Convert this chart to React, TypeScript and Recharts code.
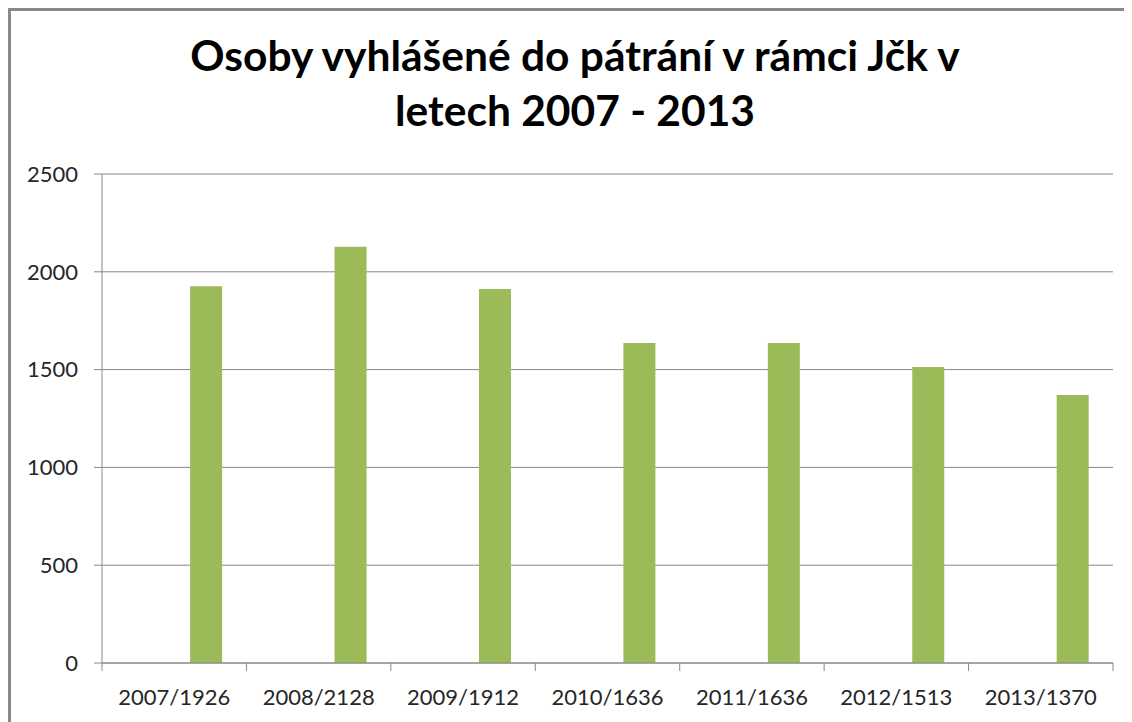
import { BarChart, Bar, XAxis, YAxis, CartesianGrid } from 'recharts';

const years = ['2007', '2008', '2009', '2010', '2011', '2012', '2013'];
const persons = [1926, 2128, 1912, 1636, 1636, 1513, 1370];
const yTicks = [0, 500, 1000, 1500, 2000, 2500];

const data = years.map((year, i) => ({
  label: `${year}/${persons[i]}`,
  persons: persons[i],
}));

const FONT = 'Lato, "Liberation Sans", sans-serif';
const AXIS_GRAY = '#888888';
const X_TICK_SIZE = 8;
const X_TICK_MARGIN = 18;

// Excel draws the x tick marks between categories, not under them
const CategoryTick = (props: any) => {
  const { x, y, payload, index, visibleTicksCount } = props;
  const half = payload?.offset ?? 0;
  const y1 = y - X_TICK_MARGIN - X_TICK_SIZE;
  const y2 = y - X_TICK_MARGIN;
  return (
    <g>
      <line x1={x - half} x2={x - half} y1={y1} y2={y2} stroke={AXIS_GRAY} />
      {index === visibleTicksCount - 1 && (
        <line x1={x + half} x2={x + half} y1={y1} y2={y2} stroke={AXIS_GRAY} />
      )}
      <text x={x} y={y} dy="0.71em" textAnchor="middle" fontSize={22} fill="#262626" fontFamily={FONT}>
        {payload.value}
      </text>
    </g>
  );
};

export default function App() {
  return (
    <div
      style={{
        position: 'relative',
        width: 1124,
        height: 714,
        boxSizing: 'border-box',
        borderTop: '3px solid #898989',
        borderLeft: '3px solid #898989',
        fontFamily: FONT,
      }}
    >
      <style>{`body { overflow: hidden; }`}</style>
      <div
        style={{
          position: 'absolute',
          left: 0,
          top: 16,
          width: 1128,
          textAlign: 'center',
          fontSize: 42.5,
          fontWeight: 700,
          lineHeight: '55px',
          color: '#000',
        }}
      >
        Osoby vyhlášené do pátrání v rámci Jčk v
        <br />
        letech 2007 - 2013
      </div>
      <BarChart
        width={1121}
        height={711}
        data={data}
        margin={{ top: 163, right: 19, bottom: 9, left: 0 }}
        barCategoryGap="16.7%"
        barGap={0}
      >
        <CartesianGrid vertical={false} stroke={AXIS_GRAY} />
        <XAxis
          dataKey="label"
          height={50}
          tickLine={false}
          tickSize={X_TICK_SIZE}
          tickMargin={X_TICK_MARGIN}
          axisLine={{ stroke: AXIS_GRAY }}
          tick={<CategoryTick />}
          interval={0}
        />
        <YAxis
          width={91}
          domain={[0, 2500]}
          ticks={yTicks}
          tickSize={8}
          tickMargin={16}
          axisLine={{ stroke: AXIS_GRAY }}
          tickLine={{ stroke: AXIS_GRAY }}
          tick={{ fontSize: 22, fill: '#262626', fontFamily: FONT }}
        />
        {/* two empty series in the source workbook push the green bar to the right of each slot */}
        <Bar dataKey="emptySeries1" fill="#4F81BD" isAnimationActive={false} />
        <Bar dataKey="emptySeries2" fill="#C0504D" isAnimationActive={false} />
        <Bar dataKey="persons" fill="#9BBB59" isAnimationActive={false} />
      </BarChart>
    </div>
  );
}
